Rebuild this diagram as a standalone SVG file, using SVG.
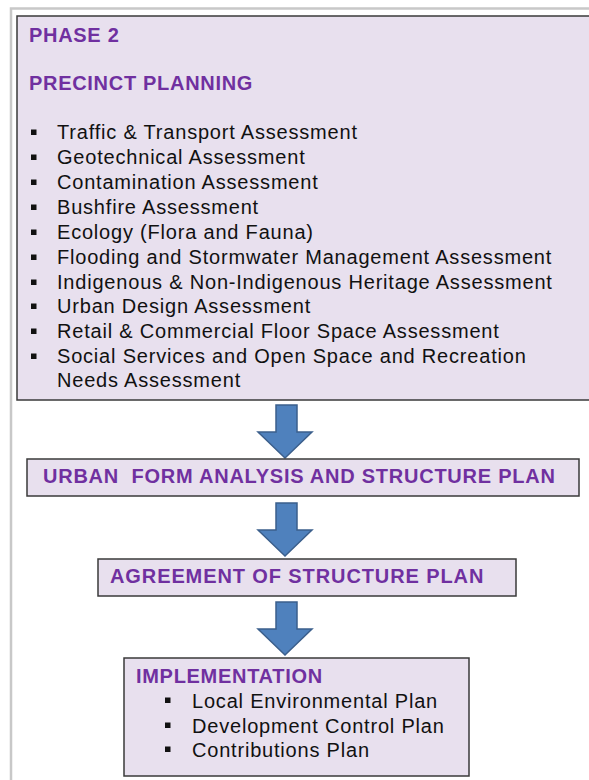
<svg xmlns="http://www.w3.org/2000/svg" width="589" height="780" viewBox="0 0 589 780">
<style>
.box{fill:#e8e0ee;stroke:#3a3a3a;stroke-width:1.5}
.h{font-family:"Liberation Sans",Arial,sans-serif;font-weight:bold;font-size:20px;fill:#7030a0;letter-spacing:0.7px}
.t{font-family:"Liberation Sans",Arial,sans-serif;font-size:20px;fill:#111;letter-spacing:0.8px}
.b{fill:#111}
.arrow{fill:#4f81bd;stroke:#3b5f8c;stroke-width:1.5;stroke-linejoin:miter}
</style>
<defs>
<path id="arr" class="arrow" d="M -9 0 L 12 0 L 12 27 L 27 27 L 0 53 L -27 27 L -9 27 Z"/>
</defs>
<rect x="0" y="0" width="589" height="780" fill="#fff"/>
<path d="M 11 780 L 11 8.5 L 589 8.5" fill="none" stroke="#c8c8c8" stroke-width="2.5"/>

<g id="phase2">
<rect class="box" x="17" y="16" width="600" height="384"/>
<text class="h" x="29" y="42">PHASE 2</text>
<text class="h" x="29" y="90">PRECINCT PLANNING</text>
<g class="b">
<rect x="31" y="129.5" width="5.5" height="5.5"/>
<rect x="31" y="154.5" width="5.5" height="5.5"/>
<rect x="31" y="179.5" width="5.5" height="5.5"/>
<rect x="31" y="204.5" width="5.5" height="5.5"/>
<rect x="31" y="229.5" width="5.5" height="5.5"/>
<rect x="31" y="254.5" width="5.5" height="5.5"/>
<rect x="31" y="279.5" width="5.5" height="5.5"/>
<rect x="31" y="303.5" width="5.5" height="5.5"/>
<rect x="31" y="328.5" width="5.5" height="5.5"/>
<rect x="31" y="353.5" width="5.5" height="5.5"/>
</g>
<text class="t" x="57" y="139">Traffic &amp; Transport Assessment</text>
<text class="t" x="57" y="164">Geotechnical Assessment</text>
<text class="t" x="57" y="189">Contamination Assessment</text>
<text class="t" x="57" y="214">Bushfire Assessment</text>
<text class="t" x="57" y="239">Ecology (Flora and Fauna)</text>
<text class="t" x="57" y="264">Flooding and Stormwater Management Assessment</text>
<text class="t" x="57" y="289">Indigenous &amp; Non-Indigenous Heritage Assessment</text>
<text class="t" x="57" y="313">Urban Design Assessment</text>
<text class="t" x="57" y="338">Retail &amp; Commercial Floor Space Assessment</text>
<text class="t" x="57" y="363">Social Services and Open Space and Recreation</text>
<text class="t" x="57" y="387">Needs Assessment</text>
</g>

<g id="connectors">
<use href="#arr" x="285" y="405"/>
<use href="#arr" x="285" y="503"/>
<use href="#arr" x="285" y="602"/>
</g>

<g id="urban-form">
<rect class="box" x="27" y="459" width="552" height="37"/>
<text class="h" x="43" y="483" xml:space="preserve" style="letter-spacing:0.75px">URBAN  FORM ANALYSIS AND STRUCTURE PLAN</text>
</g>

<g id="agreement">
<rect class="box" x="98" y="559" width="418" height="37"/>
<text class="h" x="110" y="583" style="letter-spacing:0.9px">AGREEMENT OF STRUCTURE PLAN</text>
</g>

<g id="implementation">
<rect class="box" x="124" y="658" width="345" height="118"/>
<text class="h" x="136" y="683">IMPLEMENTATION</text>
<g class="b">
<rect x="165" y="697.5" width="5.5" height="5.5"/>
<rect x="165" y="722.5" width="5.5" height="5.5"/>
<rect x="165" y="746.5" width="5.5" height="5.5"/>
</g>
<text class="t" x="192" y="708">Local Environmental Plan</text>
<text class="t" x="192" y="733">Development Control Plan</text>
<text class="t" x="192" y="757">Contributions Plan</text>
</g>
</svg>
